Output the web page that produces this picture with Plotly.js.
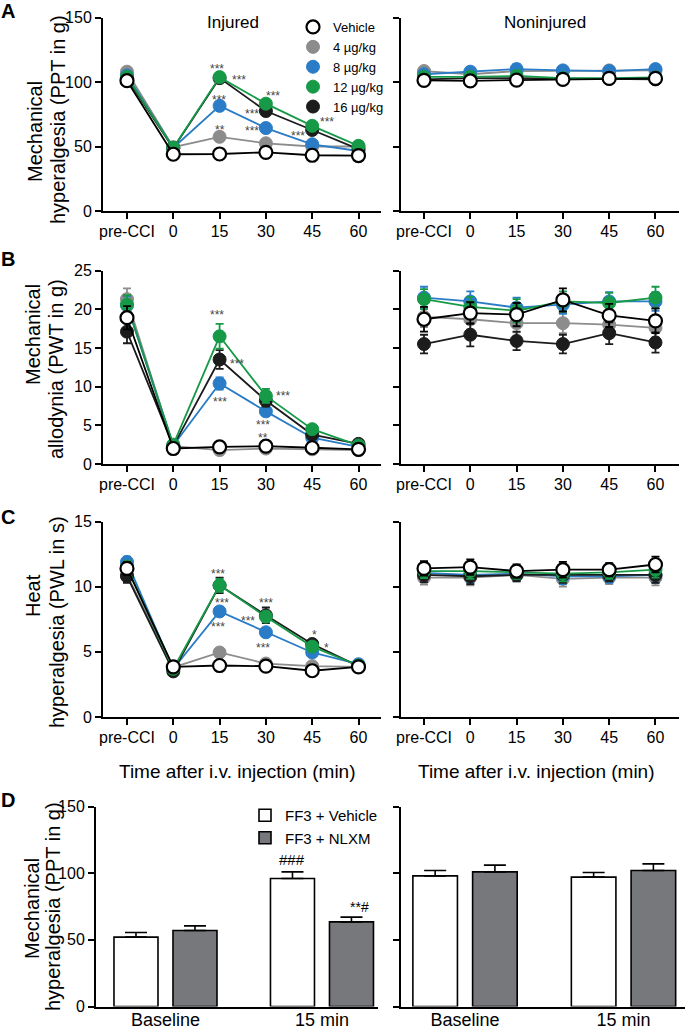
<!DOCTYPE html>
<html>
<head>
<meta charset="utf-8">
<script src="https://cdn.plot.ly/plotly-3.0.1.min.js"></script>
<style>
  body { margin: 0; background: #fff; }
  #plot { width: 685px; height: 1032px; }
</style>
</head>
<body>
<div id="plot"></div>
<script>
// time points (x categories) of the line panels
const timeLabels = ['pre-CCI', '0', '15', '30', '45', '60'];
const timeIdx = [0, 1, 2, 3, 4, 5];
const groupNames = ['Vehicle', '4 µg/kg', '8 µg/kg', '12 µg/kg', '16 µg/kg'];

// A - mechanical hyperalgesia (PPT in g)
const aInjVeh = [101, 44, 44.2, 45.5, 43.2, 43];
const aInj4 = [108, 49.5, 57.5, 52.5, 50, 50];
const aInj8 = [105, 49, 81.5, 64.3, 51.7, 46.5];
const aInj12 = [104, 49, 103.8, 83.2, 66, 50.5];
const aInj16 = [103, 48.5, 103, 77.5, 62.8, 48];
const aInjErr = [2, 1.5, 1.5, 1.5, 1.5, 1.5];
const aNonVeh = [101.3, 100.8, 101.5, 102, 102.8, 102.8];
const aNon4 = [108.5, 106, 108.5, 108.5, 109, 109];
const aNon8 = [106, 108, 110, 109, 108.5, 110];
const aNon12 = [104, 104, 104.7, 103, 103, 103.5];
const aNon16 = [102, 103, 103, 102.5, 102.5, 102];
const aNonErr = [3, 3, 4, 3, 3, 3];

// B - mechanical allodynia (PWT in g)
const bInjVeh = [18.9, 2.0, 2.2, 2.3, 2.1, 1.9];
const bInj4 = [21.3, 2.3, 1.8, 2.0, 1.9, 1.8];
const bInj8 = [20.5, 2.4, 10.4, 6.8, 3.4, 2.2];
const bInj12 = [20.6, 2.5, 16.5, 8.8, 4.5, 2.4];
const bInj16 = [17.1, 2.3, 13.5, 8.2, 3.8, 2.6];
const bInjErrVeh = [1.5, 0.3, 0.3, 0.3, 0.3, 0.3];
const bInjErr4 = [1.4, 0.3, 0.3, 0.3, 0.3, 0.3];
const bInjErr8 = [1.2, 0.3, 0.8, 0.6, 0.4, 0.3];
const bInjErr12 = [1.2, 0.3, 1.6, 0.9, 0.5, 0.3];
const bInjErr16 = [1.5, 0.3, 1.2, 0.8, 0.5, 0.3];
const bNonVeh = [18.7, 19.5, 19.3, 21.2, 19.2, 18.5];
const bNon4 = [19.0, 18.7, 18.2, 18.2, 18.0, 17.6];
const bNon8 = [21.5, 21.0, 20.2, 20.6, 21.0, 21.0];
const bNon12 = [21.3, 20.3, 19.8, 21.0, 20.8, 21.5];
const bNon16 = [15.5, 16.7, 15.9, 15.5, 16.9, 15.7];
const bNonErrVeh = [1.6, 1.4, 1.5, 1.5, 1.5, 1.6];
const bNonErr4 = [1.3, 1.3, 1.2, 1.3, 1.2, 1.2];
const bNonErr8 = [1.4, 1.3, 1.3, 1.2, 1.2, 1.2];
const bNonErr12 = [1.3, 1.3, 1.5, 1.3, 1.3, 1.4];
const bNonErr16 = [1.2, 1.5, 1.2, 1.2, 1.4, 1.3];

// C - heat hyperalgesia (PWL in s)
const cInjVeh = [11.4, 3.85, 3.95, 3.9, 3.55, 3.85];
const cInj4 = [10.9, 3.8, 4.95, 4.1, 3.9, 3.85];
const cInj8 = [11.9, 3.7, 8.1, 6.5, 4.95, 4.05];
const cInj12 = [11.5, 3.7, 10.1, 7.7, 5.4, 3.95];
const cInj16 = [10.8, 3.5, 10.1, 7.8, 5.6, 3.9];
const cInjErrVeh = [0.5, 0.2, 0.2, 0.2, 0.2, 0.2];
const cInjErr8 = [0.4, 0.2, 0.3, 0.3, 0.2, 0.2];
const cInjErr12 = [0.5, 0.2, 0.5, 0.4, 0.3, 0.2];
const cInjErr16 = [0.5, 0.2, 0.6, 0.6, 0.3, 0.2];
const cNonVeh = [11.4, 11.5, 11.2, 11.3, 11.3, 11.7];
const cNon4 = [10.7, 10.7, 10.9, 10.6, 10.7, 10.7];
const cNon8 = [11.05, 10.9, 11.0, 10.8, 10.8, 10.9];
const cNon12 = [11.2, 11.2, 11.1, 11.0, 11.1, 11.3];
const cNon16 = [10.9, 10.8, 10.9, 10.9, 10.9, 10.9];
const cNonErr = [0.55, 0.6, 0.5, 0.6, 0.5, 0.6];

// D - bars
const dGroups = ['Baseline', '15 min'];
const dIdx = [0, 1];
const dInjVeh = [52, 96];
const dInjVehErr = [3.5, 5];
const dInjNlxm = [57, 63.5];
const dInjNlxmErr = [3.5, 3.5];
const dNonVeh = [98, 97];
const dNonVehErr = [4, 3.5];
const dNonNlxm = [101, 102];
const dNonNlxmErr = [5, 5];

const FONT = 'Liberation Sans, Arial, sans-serif';
const W = 685, H = 1032;
const px = v => v / W;
const py = v => 1 - v / H;

// style per group: vehicle, 4, 8, 12, 16
const colors = ['#000000', '#8c8c8c', '#2a7cc6', '#179a48', '#1c1c1c'];
const drawOrder = [1, 2, 4, 3, 0];

let traces = [];

// legend-only entries
groupNames.forEach((name, g) => {
    traces.push({
        x: [null], y: [null], mode: 'markers', name: name,
        xaxis: 'x', yaxis: 'y', legend: 'legend', hoverinfo: 'skip',
        marker: g === 0
            ? { size: 13, color: '#ffffff', line: { color: '#000', width: 2.2 } }
            : { size: 13, color: colors[g], line: { color: colors[g], width: 1 } }
    });
});

function linePanel(xa, ya, series, errs) {
    drawOrder.forEach(g => {
        let c = colors[g];
        traces.push({
            x: timeIdx, y: series[g], xaxis: xa, yaxis: ya,
            mode: 'lines+markers', showlegend: false, name: groupNames[g],
            line: { color: c, width: 1.8 },
            marker: g === 0
                ? { size: 13, color: '#ffffff', line: { color: '#000', width: 2.2 } }
                : { size: 13, color: c, line: { color: c, width: 1 } },
            error_y: { type: 'data', array: errs[g], color: c, thickness: 1.8, width: 4 }
        });
    });
}

linePanel('x', 'y', [aInjVeh, aInj4, aInj8, aInj12, aInj16], [aInjErr, aInjErr, aInjErr, aInjErr, aInjErr]);
linePanel('x2', 'y2', [aNonVeh, aNon4, aNon8, aNon12, aNon16], [aNonErr, aNonErr, aNonErr, aNonErr, aNonErr]);
linePanel('x3', 'y3', [bInjVeh, bInj4, bInj8, bInj12, bInj16], [bInjErrVeh, bInjErr4, bInjErr8, bInjErr12, bInjErr16]);
linePanel('x4', 'y4', [bNonVeh, bNon4, bNon8, bNon12, bNon16], [bNonErrVeh, bNonErr4, bNonErr8, bNonErr12, bNonErr16]);
linePanel('x5', 'y5', [cInjVeh, cInj4, cInj8, cInj12, cInj16], [cInjErrVeh, cInjErrVeh, cInjErr8, cInjErr12, cInjErr16]);
linePanel('x6', 'y6', [cNonVeh, cNon4, cNon8, cNon12, cNon16], [cNonErr, cNonErr, cNonErr, cNonErr, cNonErr]);

function barPair(xa, ya, veh, vehErr, nlxm, nlxmErr, legendOn) {
    traces.push({
        type: 'bar', x: dIdx, y: veh, xaxis: xa, yaxis: ya, name: 'FF3 + Vehicle',
        showlegend: legendOn, legend: 'legend2',
        marker: { color: '#ffffff', line: { color: '#000', width: 1.6 } },
        error_y: { type: 'data', symmetric: false, array: vehErr, arrayminus: [0, 0], color: '#000', thickness: 1.6, width: 11 }
    });
    traces.push({
        type: 'bar', x: dIdx, y: nlxm, xaxis: xa, yaxis: ya, name: 'FF3 + NLXM',
        showlegend: legendOn, legend: 'legend2',
        marker: { color: '#76787b', line: { color: '#000', width: 1.6 } },
        error_y: { type: 'data', symmetric: false, array: nlxmErr, arrayminus: [0, 0], color: '#000', thickness: 1.6, width: 11 }
    });
}
barPair('x7', 'y7', dInjVeh, dInjVehErr, dInjNlxm, dInjNlxmErr, true);
barPair('x8', 'y8', dNonVeh, dNonVehErr, dNonNlxm, dNonNlxmErr, false);

const axBase = {
    showline: true, linecolor: '#000', linewidth: 2, mirror: false,
    ticks: 'outside', ticklen: 6, tickwidth: 2, tickcolor: '#000',
    showgrid: false, zeroline: false, fixedrange: true,
    tickfont: { family: FONT, size: 16, color: '#000' }
};
function xTime(domain, range, anchor) {
    return Object.assign({}, axBase, { domain: domain, range: range, anchor: anchor,
        tickmode: 'array', tickvals: timeIdx, ticktext: timeLabels, ticklabelstandoff: -1 });
}
function yAx(domain, range, dtick, labels, anchor) {
    return Object.assign({}, axBase, { domain: domain, range: range, anchor: anchor,
        tickmode: 'linear', tick0: 0, dtick: dtick, showticklabels: labels });
}
function xBar(domain, range, anchor) {
    return Object.assign({}, axBase, { domain: domain, range: range, anchor: anchor,
        tickmode: 'array', tickvals: dIdx, ticktext: dGroups, ticks: '',
        tickfont: { family: FONT, size: 18, color: '#000' }, ticklabelstandoff: -4 });
}

const xL = [px(103), px(381)], xLR = [-0.518, 5.486];
const xR = [px(401), px(679)], xRR = [-0.497, 5.508];
const yA = [py(211), py(17.5)], yB = [py(464), py(270.5)], yC = [py(717), py(521.5)], yD = [py(1006.5), py(806.5)];

let ann = [];
function txt(x, y, text, size, opts) {
    ann.push(Object.assign({ xref: 'paper', yref: 'paper', x: px(x), y: py(y), text: text,
        xanchor: 'center', yanchor: 'middle',
        showarrow: false, font: { family: FONT, size: size, color: '#000' } }, opts || {}));
}
function star(xa, ya, x, y, text) {
    ann.push({ xref: xa, yref: ya, x: x, y: y, text: text, showarrow: false, yshift: -3,
        xanchor: 'center', yanchor: 'middle',
        font: { family: FONT, size: 12, color: '#444' } });
}

// panel letters
txt(8, 11, '<b>A</b>', 20);
txt(8, 259, '<b>B</b>', 20);
txt(8, 517, '<b>C</b>', 20);
txt(8, 800, '<b>D</b>', 20);

// y titles
txt(35, 132, 'Mechanical', 20, { textangle: -90 });
txt(58, 120, 'hyperalgesia (PPT in g)', 20, { textangle: -90 });
txt(33, 335, 'Mechanical', 20, { textangle: -90 });
txt(56, 369, 'allodynia (PWT in g)', 20, { textangle: -90 });
txt(33, 596, 'Heat', 20, { textangle: -90 });
txt(57, 622, 'hyperalgesia (PWL in s)', 20, { textangle: -90 });
txt(32, 908, 'Mechanical', 20, { textangle: -90 });
txt(53, 907, 'hyperalgesia (PPT in g)', 20, { textangle: -90 });

// panel headers and x titles
txt(233, 22, 'Injured', 17);
txt(545, 22, 'Noninjured', 17);
txt(237, 771, 'Time after i.v. injection (min)', 19);
txt(536, 771, 'Time after i.v. injection (min)', 19);

// significance marks
star('x', 'y', 1.94, 112.4, '***');
star('x', 'y', 2.42, 104, '***');
star('x', 'y', 1.99, 88.4, '***');
star('x', 'y', 2.0, 65, '**');
star('x', 'y', 3.15, 91.5, '***');
star('x', 'y', 2.7, 77.5, '***');
star('x', 'y', 2.7, 64.3, '***');
star('x', 'y', 3.7, 60.5, '***');
star('x', 'y', 4.31, 71.3, '***');

star('x3', 'y3', 1.94, 19.6, '***');
star('x3', 'y3', 2.37, 13.3, '***');
star('x3', 'y3', 2.0, 8.4, '***');
star('x3', 'y3', 3.37, 9.2, '***');
star('x3', 'y3', 2.93, 5.4, '***');
star('x3', 'y3', 2.93, 3.8, '**');

star('x5', 'y5', 1.97, 11.2, '***');
star('x5', 'y5', 2.05, 9.0, '***');
star('x5', 'y5', 1.97, 7.1, '***');
star('x5', 'y5', 3.0, 9.0, '***');
star('x5', 'y5', 2.62, 7.6, '***');
star('x5', 'y5', 2.94, 5.5, '***');
star('x5', 'y5', 4.04, 6.5, '*');
star('x5', 'y5', 4.3, 5.5, '*');

ann.push({ xref: 'x7', yref: 'y7', x: 0.81, y: 110, text: '###', showarrow: false,
    xanchor: 'center', yanchor: 'middle', font: { family: FONT, size: 15, color: '#000' } });
ann.push({ xref: 'x7', yref: 'y7', x: 1.24, y: 74.6, text: '**#', showarrow: false,
    xanchor: 'center', yanchor: 'middle', font: { family: FONT, size: 14, color: '#000' } });

const layout = {
    width: W, height: H,
    margin: { l: 0, r: 0, t: 0, b: 0 },
    paper_bgcolor: '#fff', plot_bgcolor: 'rgba(0,0,0,0)',
    font: { family: FONT, color: '#000' },
    showlegend: true,
    bargap: 0.246, bargroupgap: 0.254, barmode: 'group',
    legend: { x: px(293), y: py(12), xanchor: 'left', yanchor: 'top',
        bgcolor: 'rgba(0,0,0,0)', font: { family: FONT, size: 13 }, tracegroupgap: 0, itemwidth: 30 },
    legend2: { x: px(245), y: py(799), xanchor: 'left', yanchor: 'top',
        bgcolor: 'rgba(0,0,0,0)', font: { family: FONT, size: 15 }, tracegroupgap: 0, itemwidth: 30 },
    xaxis: xTime(xL, xLR, 'y'), yaxis: yAx(yA, [0, 150], 50, true, 'x'),
    xaxis2: xTime(xR, xRR, 'y2'), yaxis2: yAx(yA, [0, 150], 50, false, 'x2'),
    xaxis3: xTime(xL, xLR, 'y3'), yaxis3: yAx(yB, [0, 25], 5, true, 'x3'),
    xaxis4: xTime(xR, xRR, 'y4'), yaxis4: yAx(yB, [0, 25], 5, false, 'x4'),
    xaxis5: xTime(xL, xLR, 'y5'), yaxis5: yAx(yC, [0, 15], 5, true, 'x5'),
    xaxis6: xTime(xR, xRR, 'y6'), yaxis6: yAx(yC, [0, 15], 5, false, 'x6'),
    xaxis7: xBar([px(96), px(378)], [-0.444, 1.358], 'y7'), yaxis7: yAx(yD, [0, 150], 50, true, 'x7'),
    xaxis8: xBar([px(401), 1], [-0.404, 1.388], 'y8'), yaxis8: yAx(yD, [0, 150], 50, false, 'x8'),
    annotations: ann
};

Plotly.newPlot('plot', traces, layout, { staticPlot: true, displayModeBar: false });
</script>
</body>
</html>
